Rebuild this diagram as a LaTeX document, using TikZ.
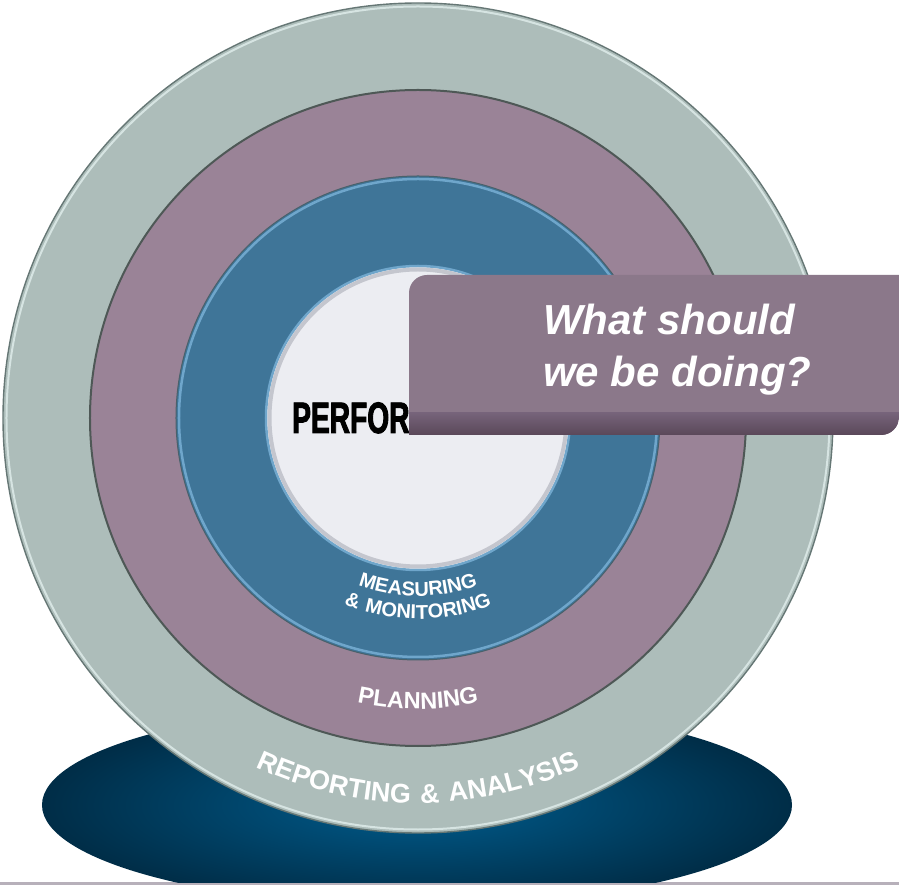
\documentclass[tikz,border=0pt]{standalone}
\usepackage{fontspec}
\setmainfont{Liberation Sans}
\newfontfamily\perffont[FakeStretch = 0.64, BoldFeatures = {FakeBold = 2}]{Liberation Sans}
\newfontfamily\ringfont[LetterSpace = 8]{Liberation Sans}
\usetikzlibrary{decorations.text}

\definecolor{outergray}{HTML}{ADBDBA}
\definecolor{outeredge}{HTML}{667775}
\definecolor{outerlight}{HTML}{D6E4E2}
\definecolor{planmauve}{HTML}{9A8397}
\definecolor{planedge}{HTML}{4E5856}
\definecolor{measureblue}{HTML}{3F7598}
\definecolor{measurelight}{HTML}{6FA6CB}
\definecolor{coreface}{HTML}{ECEDF2}
\definecolor{coreshade}{HTML}{C4C6CE}
\definecolor{calloutface}{HTML}{8B788A}
\definecolor{calloutdark}{HTML}{5A4859}
\definecolor{calloutmid}{HTML}{76637A}
\definecolor{plinthlight}{HTML}{005C8D}
\definecolor{plinthdark}{HTML}{002D47}
\definecolor{floorline}{HTML}{B7B0BA}

\newcommand{\reportfont}{\ringfont\fontsize{27}{29}\selectfont\bfseries\color{white}}
\newcommand{\planfont}{\ringfont\fontsize{23.5}{25}\selectfont\bfseries\color{white}}
\newcommand{\measurefont}{\ringfont\fontsize{20}{22}\selectfont\bfseries\color{white}}

\begin{document}
\begin{tikzpicture}[x = 1pt, y = 1pt,
		bandtext/.style = {decorate, decoration = {text along path, text align = center, text = {#1}}}]
	\useasboundingbox (-418,-467) rectangle (481,418);
	\fill[fill = floorline] (-418,-467) rectangle (481,-464);
	\begin{scope}
		\clip (-418,-464) rectangle (481,418);
		\shade[inner color = plinthlight, outer color = plinthdark] (-1,-387) ellipse [x radius = 375, y radius = 101];
	\end{scope}
	\fill[fill = outergray, draw = outeredge, line width = 1.4] (0,0) circle [radius = 415];
	\draw[draw = outerlight, line width = 2] (0,0) circle [radius = 411.5];
	\fill[fill = planmauve, draw = planedge, line width = 2] (0,0) circle [radius = 328];
	\fill[fill = measureblue, draw = planedge!70!measureblue, line width = 1] (0,0) circle [radius = 242];
	\draw[draw = measurelight, line width = 2.5] (0,0) circle [radius = 239];
	\fill[fill = coreface, draw = measurelight, line width = 2.5] (0,0) circle [radius = 152];
	\draw[draw = coreshade, line width = 4] (0,0) circle [radius = 148.5];
	\node[anchor = base west, inner sep = 0] (perf) at (-126,-15) {\perffont\bfseries\fontsize{44}{44}\selectfont PERFORMANCE};
	\path[bandtext = {|\reportfont|REPORTING {\&} ANALYSIS}] (230:385) arc [start angle = 230, end angle = 310, radius = 385];
	\path[bandtext = {|\planfont|PLANNING}] (240:291) arc [start angle = 240, end angle = 300, radius = 291];
	\path[bandtext = {|\measurefont|MEASURING}] (220:178) arc [start angle = 220, end angle = 320, radius = 178];
	\path[bandtext = {|\measurefont|{\&} MONITORING}] (220:201) arc [start angle = 220, end angle = 320, radius = 201];
	\fill[fill = calloutface] (-9,-17) -- (-9,125) arc [start angle = 180, end angle = 90, radius = 18] -- (481,143) -- (481,1) arc [start angle = 0, end angle = -90, radius = 18] -- cycle;
	\begin{scope}
		\clip (-9,-17) -- (-9,125) arc [start angle = 180, end angle = 90, radius = 18] -- (481,143) -- (481,1) arc [start angle = 0, end angle = -90, radius = 18] -- cycle;
		\shade[top color = calloutmid, bottom color = calloutdark] (-9,-17) rectangle (481,5);
	\end{scope}
	\node[anchor = west, inner sep = 0, align = left, text = white, font = \bfseries\itshape\fontsize{42}{52}\selectfont] (question) at (125,68) {What should\\we be doing?};
\end{tikzpicture}
\end{document}
